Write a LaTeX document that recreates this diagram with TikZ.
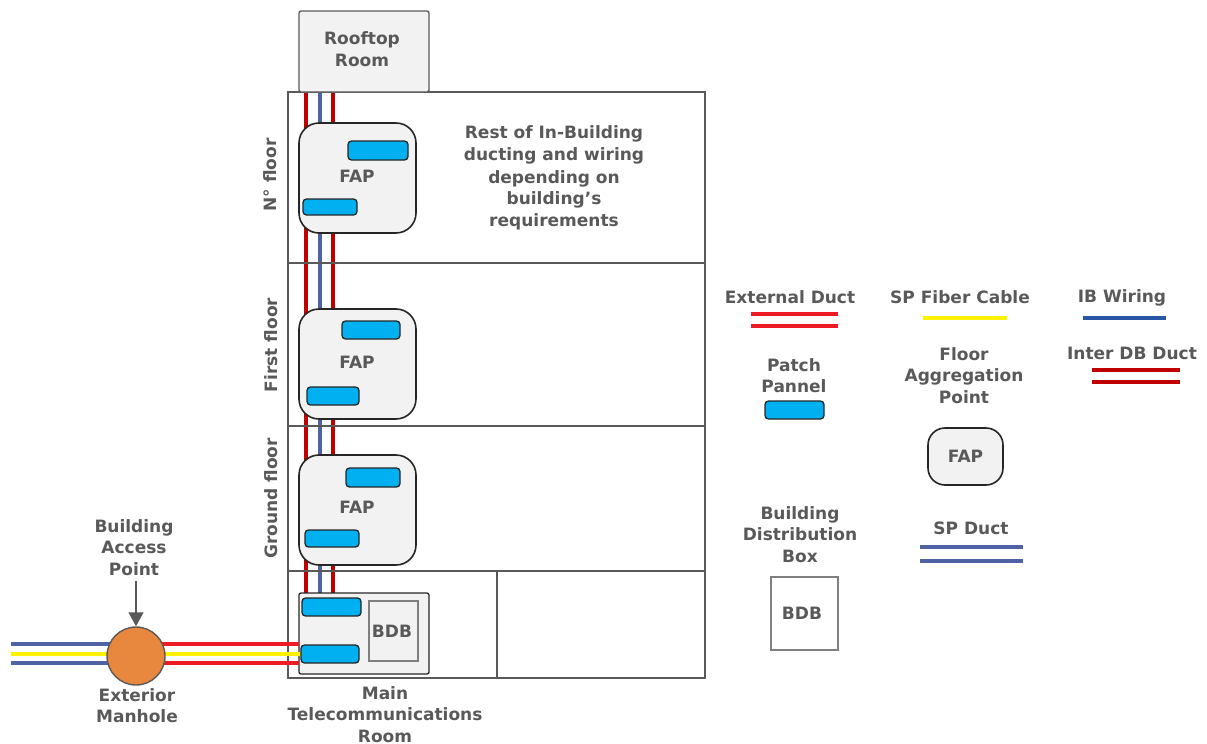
\documentclass[tikz,border=0pt]{standalone}
\usepackage{fontspec}
\setmainfont{DejaVu Sans}
\usetikzlibrary{arrows.meta,positioning,calc}
\definecolor{wallgray}{HTML}{595959}
\definecolor{boxgray}{HTML}{F2F2F2}
\definecolor{bdbgray}{HTML}{7F7F7F}
\definecolor{patchblue}{HTML}{00B0F0}
\definecolor{holeorange}{HTML}{E8873E}
\definecolor{extred}{HTML}{ED1C24}
\definecolor{interred}{HTML}{C00000}
\definecolor{spyellow}{HTML}{FFF200}
\definecolor{spblue}{HTML}{4F62A5}
\definecolor{ibblue}{HTML}{2A56A6}
\tikzset{
  lbl/.style={text=wallgray,font=\fontsize{17}{21.5}\selectfont\bfseries,align=center,inner sep=0pt},
  fapbox/.style={draw=black!85,line width=1.6pt,fill=boxgray,rounded corners=20pt,inner sep=0pt},
  patch/.style={draw=black!85,line width=1.3pt,fill=patchblue,rounded corners=3.5pt,inner sep=0pt},
  bdbbox/.style={draw=bdbgray,line width=2.2pt,fill=boxgray,inner sep=0pt},
  room/.style={draw=wallgray,line width=1.3pt,fill=boxgray,rounded corners=2pt,inner sep=0pt},
  wall/.style={draw=wallgray,line width=2pt},
  duct/.style={line width=3.5pt}
}

\begin{document}
\begin{tikzpicture}[y=-1pt,x=1pt]
\useasboundingbox (0,0) rectangle (1207,744);
\coordinate (ductL) at (306,92);
\coordinate (ductM) at (320,92);
\coordinate (ductR) at (333,92);
\coordinate (ductLb) at (306,593);
\coordinate (ductMb) at (320,593);
\coordinate (ductRb) at (333,593);
\draw[interred,duct] (ductL) -- (ductLb);
\draw[spblue,duct] (ductM) -- (ductMb);
\draw[interred,duct] (ductR) -- (ductRb);
\draw[wall] (288,92) rectangle (705,678);
\draw[wall] (288,263) -- (705,263);
\draw[wall] (288,426) -- (705,426);
\draw[wall] (288,571) -- (705,571);
\draw[wall] (497,571) -- (497,678);
\node[room,minimum width=130pt,minimum height=81pt] (rooftop) at (364,51.5) {};
\node[lbl] (rooftopt) at (362,49) {Rooftop\\Room};
\foreach \nm/\y in {fapN/178,fapA/364,fapB/510} {
  \node[fapbox,minimum width=117pt,minimum height=110pt] (\nm) at (357.5,\y) {};
}
\node[lbl] (fapNt) at (357,176) {FAP};
\node[lbl] (fapAt) at (357,362) {FAP};
\node[lbl] (fapBt) at (357,507) {FAP};
\foreach \nm/\x/\y/\w/\h in {pNa/378/150.5/60/19,pNb/330/207/54/16,pAa/371/330/58/18,pAb/333/396/52/18,pBa/373/477.5/54/19,pBb/332/538.5/54/17} {
  \node[patch,minimum width=\w pt,minimum height=\h pt] (\nm) at (\x,\y) {};
}
\node[room,draw=black!85,minimum width=130pt,minimum height=81pt] (mtr) at (364,633.5) {};
\node[bdbbox,minimum width=49pt,minimum height=60pt,lbl] (bdbroom) at (393.5,631) {};
\node[lbl] (bdbroomt) at (392,631) {BDB};
\coordinate (westA) at (11,644);
\coordinate (westB) at (11,654);
\coordinate (westC) at (11,663);
\coordinate (midA) at (136,644);
\coordinate (midB) at (136,654);
\coordinate (midC) at (136,663);
\coordinate (eastA) at (299,644);
\coordinate (eastB) at (301,654);
\coordinate (eastC) at (299,663);
\draw[spblue,duct] (westA) -- (midA);
\draw[spyellow,duct] (westB) -- (midB);
\draw[spblue,duct] (westC) -- (midC);
\draw[extred,duct] (midA) -- (eastA);
\draw[extred,duct] (midC) -- (eastC);
\draw[spyellow,duct] (midB) -- (eastB);
\node[patch,minimum width=59pt,minimum height=18pt] (pMa) at (331.5,607) {};
\node[patch,minimum width=58pt,minimum height=18pt] (pMb) at (330,654) {};
\node[circle,draw=wallgray,line width=1.4pt,fill=holeorange,minimum size=58pt,inner sep=0pt] (manhole) at (136,656) {};
\node[lbl] (accesslbl) at (134,547.5) {Building\\Access\\Point};
\coordinate (accessend) at (136,581);
\draw[wallgray,line width=1.2pt,-{Triangle[length=14pt,width=15pt]}] (accessend) -- (manhole.north);
\node[lbl] (holelbl) at (137,705.5) {Exterior\\Manhole};
\node[lbl] (mtrlbl) at (385,714.5) {Main\\Telecommunications\\Room};
\node[lbl,rotate=90] (floorN) at (270,175) {N° floor};
\node[lbl,rotate=90] (floorA) at (271,345) {First floor};
\node[lbl,rotate=90] (floorB) at (271,498.5) {Ground floor};
\node[lbl] (restA) at (554,145) {Rest of In-Building\\ducting and wiring};
\node[lbl] (restB) at (554,200) {depending on\\building’s\\requirements};
\node[lbl] (lgExt) at (790,297) {External Duct};
\coordinate (lgExtAw) at (751,314);
\coordinate (lgExtAe) at (838,314);
\coordinate (lgExtBw) at (751,326);
\coordinate (lgExtBe) at (838,326);
\draw[extred,duct] (lgExtAw) -- (lgExtAe);
\draw[extred,duct] (lgExtBw) -- (lgExtBe);
\node[lbl] (lgFib) at (960,297) {SP Fiber Cable};
\coordinate (lgFibw) at (923,318);
\coordinate (lgFibe) at (1007,318);
\draw[spyellow,duct] (lgFibw) -- (lgFibe);
\node[lbl] (lgIb) at (1122,298) {IB Wiring};
\coordinate (lgIbw) at (1083,318);
\coordinate (lgIbe) at (1166,318);
\draw[ibblue,duct] (lgIbw) -- (lgIbe);
\node[lbl] (lgInt) at (1132,353) {Inter DB Duct};
\coordinate (lgIntAw) at (1092,370);
\coordinate (lgIntAe) at (1180,370);
\coordinate (lgIntBw) at (1092,382);
\coordinate (lgIntBe) at (1180,382);
\draw[interred,duct] (lgIntAw) -- (lgIntAe);
\draw[interred,duct] (lgIntBw) -- (lgIntBe);
\node[lbl] (lgPat) at (794,375.5) {Patch\\Pannel};
\node[patch,minimum width=59pt,minimum height=18pt] (lgPatBox) at (794.5,410) {};
\node[lbl] (lgFlr) at (964,375.5) {Floor\\Aggregation\\Point};
\node[fapbox,minimum width=75pt,minimum height=57pt,rounded corners=17pt,lbl] (lgFap) at (965.5,456.5) {FAP};
\node[lbl] (lgBdb) at (800,534.5) {Building\\Distribution\\Box};
\node[bdbbox,fill=white,minimum width=67pt,minimum height=73pt] (lgBdbBox) at (804.5,613.5) {};
\node[lbl] (lgBdbt) at (802,613) {BDB};
\node[lbl] (lgSp) at (971,528) {SP Duct};
\coordinate (lgSpAw) at (920,547);
\coordinate (lgSpAe) at (1023,547);
\coordinate (lgSpBw) at (920,561);
\coordinate (lgSpBe) at (1023,561);
\draw[spblue,duct] (lgSpAw) -- (lgSpAe);
\draw[spblue,duct] (lgSpBw) -- (lgSpBe);
\end{tikzpicture}
\end{document}
